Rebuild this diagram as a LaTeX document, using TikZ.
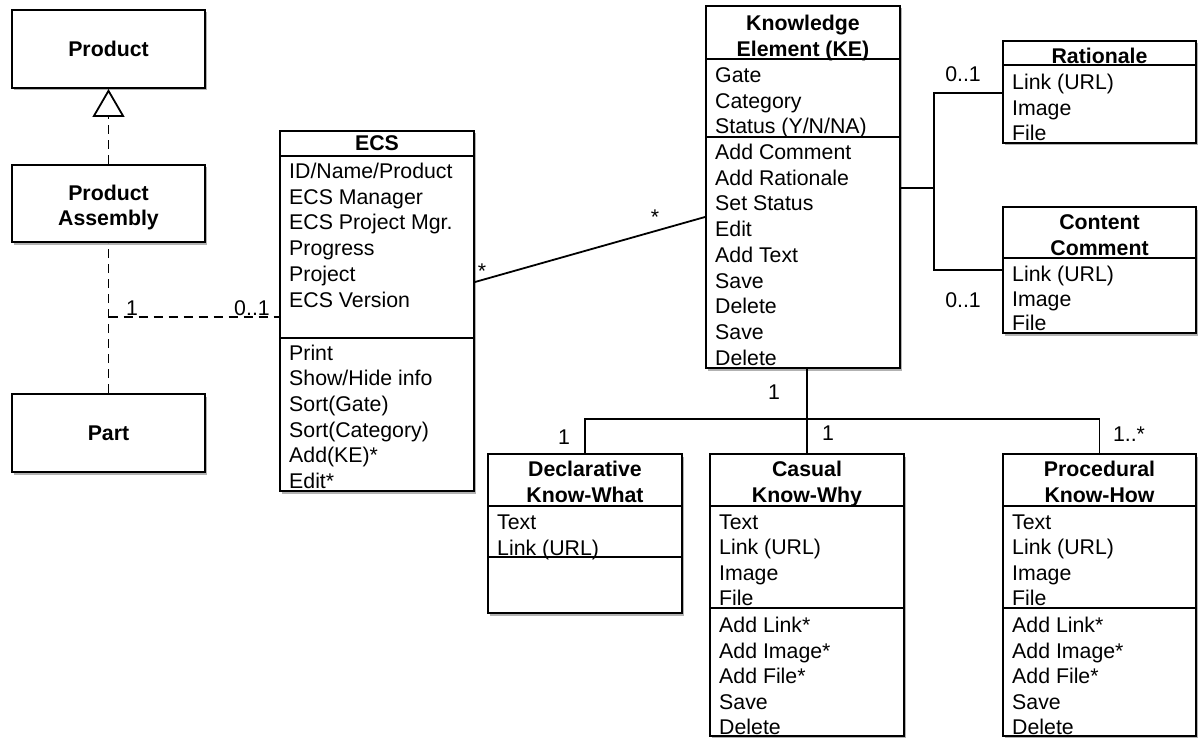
\documentclass[tikz,border=0pt]{standalone}
\usepackage{fontspec}
\setmainfont{Liberation Sans}
\usetikzlibrary{arrows.meta,shadows}
\begin{document}
\begin{tikzpicture}[x=1pt,y=-1pt,
  font=\fontsize{21.3}{25.7}\selectfont,
  cls/.style={draw, line width=2pt, fill=white, inner sep=0pt,
    drop shadow={shadow xshift=1.5pt, shadow yshift=-2.5pt, opacity=0.3, fill=black}},
  sep/.style={line width=2pt},
  txt/.style={anchor=base west, inner sep=0pt},
  ttl/.style={anchor=base, inner sep=0pt, font=\fontsize{21.3}{25.7}\selectfont\bfseries},
  mult/.style={anchor=base, inner sep=0pt},
  conn/.style={line width=1.8pt},
  dep/.style={conn, dash pattern=on 9pt off 6pt},
]
\useasboundingbox (0,0) rectangle (1198,738);

% ---------- left column ----------
\node[cls, minimum width=193pt, minimum height=78pt, font=\fontsize{21.3}{25.7}\selectfont\bfseries] (product) at (108.5,49) {Product};
\node[cls, minimum width=193pt, minimum height=77pt] (pa) at (108.5,203.5) {};
\node[ttl] (paT1) at (108.5,200.5) {Product};
\node[ttl] (paT2) at (108.5,225.8) {Assembly};
\node[cls, minimum width=193pt, minimum height=78pt, font=\fontsize{21.3}{25.7}\selectfont\bfseries] (part) at (108.5,433) {Part};

% ---------- ECS ----------
\node[cls, minimum width=194pt, minimum height=360pt] (ecs) at (377,311) {};
\draw[sep] (ecs.west |- 0,156) -- (ecs.east |- 0,156);
\draw[sep] (ecs.west |- 0,338) -- (ecs.east |- 0,338);
\node[ttl] (ecsT) at (377,150.5) {ECS};
\foreach \t [count=\i from 0] in {{ID/Name/Product},{ECS Manager},{ECS Project Mgr.},{Progress},{Project},{ECS Version}}
  \node[txt] (ecsA\i) at (289,{178.5+25.7*\i}) {\t};
\foreach \t [count=\i from 0] in {{Print},{Show/Hide info},{Sort(Gate)},{Sort(Category)},{Add(KE)*},{Edit*}}
  \node[txt] (ecsO\i) at (289,{360+25.7*\i}) {\t};

% ---------- Knowledge Element ----------
\node[cls, minimum width=194pt, minimum height=362pt] (ke) at (803,187) {};
\draw[sep] (ke.west |- 0,59.5) -- (ke.east |- 0,59.5);
\draw[sep] (ke.west |- 0,137) -- (ke.east |- 0,137);
\node[ttl] (keT1) at (803,30.5) {Knowledge};
\node[ttl] (keT2) at (803,56.2) {Element (KE)};
\foreach \t [count=\i from 0] in {{Gate},{Category},{Status (Y/N/NA)}}
  \node[txt] (keA\i) at (715,{82.5+25.7*\i}) {\t};
\foreach \t [count=\i from 0] in {{Add Comment},{Add Rationale},{Set Status},{Edit},{Add Text},{Save},{Delete},{Save},{Delete}}
  \node[txt] (keO\i) at (715,{159.5+25.7*\i}) {\t};

% ---------- Rationale ----------
\node[cls, minimum width=193pt, minimum height=102pt] (rat) at (1099.5,92) {};
\draw[sep] (rat.west |- 0,65) -- (rat.east |- 0,65);
\node[ttl] (ratT) at (1099.5,63.5) {Rationale};
\foreach \t [count=\i from 0] in {{Link (URL)},{Image},{File}}
  \node[txt] (ratA\i) at (1012,{89.5+25.7*\i}) {\t};

% ---------- Content Comment ----------
\node[cls, minimum width=193pt, minimum height=126pt] (cc) at (1099.5,270) {};
\draw[sep] (cc.west |- 0,258) -- (cc.east |- 0,258);
\node[ttl] (ccT1) at (1099.5,229.5) {Content};
\node[ttl] (ccT2) at (1099.5,255) {Comment};
\foreach \t [count=\i from 0] in {{Link (URL)},{Image},{File}}
  \node[txt] (ccA\i) at (1012,{281.5+24.7*\i}) {\t};

% ---------- Declarative ----------
\node[cls, minimum width=194pt, minimum height=159pt] (dec) at (585,533.5) {};
\draw[sep] (dec.west |- 0,506) -- (dec.east |- 0,506);
\draw[sep] (dec.west |- 0,557) -- (dec.east |- 0,557);
\node[ttl] (decT1) at (585,476.5) {Declarative};
\node[ttl] (decT2) at (585,502.2) {Know-What};
\foreach \t [count=\i from 0] in {{Text},{Link (URL)}}
  \node[txt] (decA\i) at (497,{529.5+25.5*\i}) {\t};

% ---------- Casual ----------
\node[cls, minimum width=194pt, minimum height=282pt] (cas) at (807,595) {};
\draw[sep] (cas.west |- 0,506) -- (cas.east |- 0,506);
\draw[sep] (cas.west |- 0,608) -- (cas.east |- 0,608);
\node[ttl] (casT1) at (807,476.5) {Casual};
\node[ttl] (casT2) at (807,502.2) {Know-Why};
\foreach \t [count=\i from 0] in {{Text},{Link (URL)},{Image},{File}}
  \node[txt] (casA\i) at (719,{529.5+25.3*\i}) {\t};
\foreach \t [count=\i from 0] in {{Add Link*},{Add Image*},{Add File*},{Save},{Delete}}
  \node[txt] (casO\i) at (719,{632.5+25.5*\i}) {\t};

% ---------- Procedural ----------
\node[cls, minimum width=193pt, minimum height=282pt] (pro) at (1099.5,595) {};
\draw[sep] (pro.west |- 0,506) -- (pro.east |- 0,506);
\draw[sep] (pro.west |- 0,608) -- (pro.east |- 0,608);
\node[ttl] (proT1) at (1099.5,476.5) {Procedural};
\node[ttl] (proT2) at (1099.5,502.2) {Know-How};
\foreach \t [count=\i from 0] in {{Text},{Link (URL)},{Image},{File}}
  \node[txt] (proA\i) at (1012,{529.5+25.3*\i}) {\t};
\foreach \t [count=\i from 0] in {{Add Link*},{Add Image*},{Add File*},{Save},{Delete}}
  \node[txt] (proO\i) at (1012,{632.5+25.5*\i}) {\t};

% ---------- connectors ----------
\draw[dep, -{Triangle[open, length=28pt, width=32pt]}] (pa.north) -- (product.south);
\draw[dep] (part.north) -- (pa.south);
\draw[dep] (pa.south |- 0,317) -- (ecs.west |- 0,317);

\draw[conn] (ecs.east |- 0,282) -- (ke.west |- 0,217);

\coordinate (kj) at (934,188);
\draw[conn] (ke.east |- kj) -- (kj);
\draw[conn] (rat.west |- 0,93) -| (kj);
\draw[conn] (cc.west |- 0,270) -| (kj);

\coordinate (bj) at (807,419);
\draw[conn] (ke.south -| cas.north) -- (cas.north);
\draw[conn] (dec.north) |- (bj) -| (pro.north);

% ---------- multiplicities ----------
\node[mult] (m1) at (132,315.5) {1};
\node[mult] (m2) at (252,315.5) {0..1};
\node[mult] (m3) at (482,278) {*};
\node[mult] (m4) at (655,224) {*};
\node[mult] (m5) at (963,81.5) {0..1};
\node[mult] (m6) at (963,307.5) {0..1};
\node[mult] (m7) at (774,399.5) {1};
\node[mult] (m8) at (828,440.5) {1};
\node[mult] (m9) at (564,444.5) {1};
\node[mult] (m10) at (1129,441.5) {1..*};
\end{tikzpicture}
\end{document}
